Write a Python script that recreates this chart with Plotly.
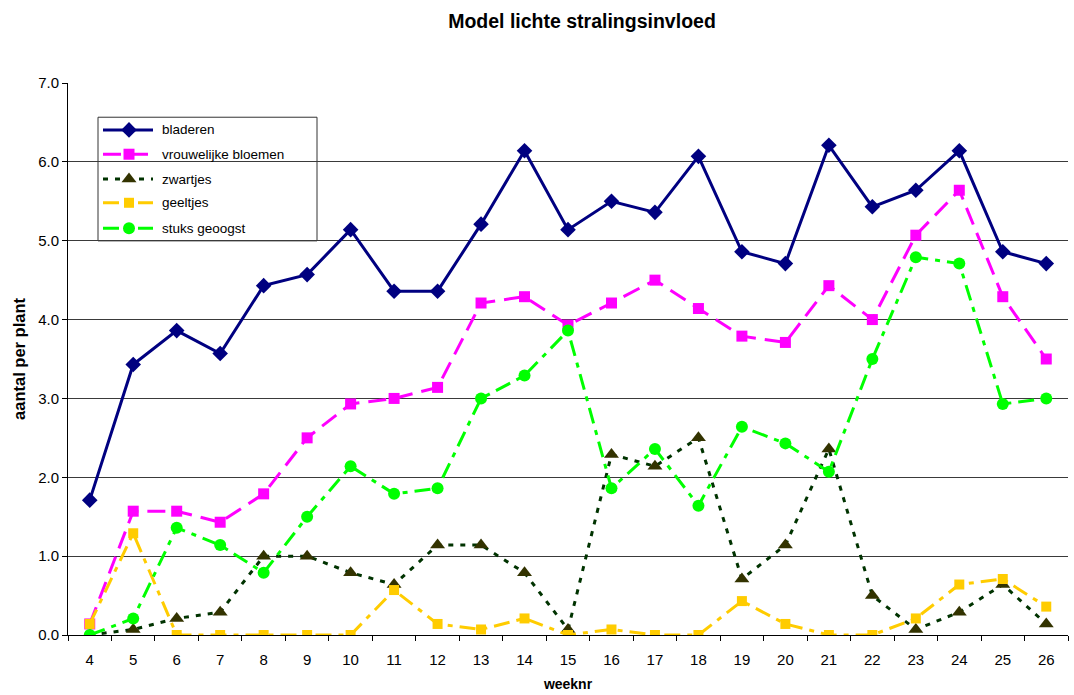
import plotly.graph_objects as go

weeks = [str(w) for w in range(4, 27)]

bladeren = [1.71, 3.43, 3.86, 3.57, 4.43, 4.57, 5.14, 4.36, 4.36, 5.21, 6.14, 5.14,
            5.50, 5.36, 6.07, 4.86, 4.71, 6.21, 5.43, 5.64, 6.14, 4.86, 4.71]
vrouwelijke_bloemen = [0.14, 1.57, 1.57, 1.43, 1.79, 2.50, 2.93, 3.00, 3.14, 4.21, 4.29, 3.93,
                       4.21, 4.50, 4.14, 3.79, 3.71, 4.43, 4.00, 5.07, 5.64, 4.29, 3.50]
zwartjes = [0.00, 0.07, 0.21, 0.29, 1.00, 1.00, 0.79, 0.64, 1.14, 1.14, 0.79, 0.07,
            2.29, 2.14, 2.50, 0.71, 1.14, 2.36, 0.50, 0.07, 0.29, 0.64, 0.14]
geeltjes = [0.14, 1.29, 0.00, 0.00, 0.00, 0.00, 0.00, 0.57, 0.14, 0.07, 0.21, 0.00,
            0.07, 0.00, 0.00, 0.43, 0.14, 0.00, 0.00, 0.21, 0.64, 0.71, 0.36]
stuks_geoogst = [0.00, 0.21, 1.36, 1.14, 0.79, 1.50, 2.14, 1.79, 1.86, 3.00, 3.29, 3.86,
                 1.86, 2.36, 1.64, 2.64, 2.43, 2.07, 3.50, 4.79, 4.71, 2.93, 3.00]

# name, values, line colour, dash, marker symbol, marker size, marker colour
series = [
    ("bladeren", bladeren, "#000080", "solid", "diamond", 12, "#000080"),
    ("vrouwelijke bloemen", vrouwelijke_bloemen, "#FF00FF", "18px,9px", "square", 11, "#FF00FF"),
    ("zwartjes", zwartjes, "#003300", "5px,7px", "triangle-up", 13, "#333300"),
    ("geeltjes", geeltjes, "#FFCC00", "16px,7px,5px,7px", "square", 10, "#FFCC00"),
    ("stuks geoogst", stuks_geoogst, "#00FF00", "16px,7px,5px,7px", "circle", 12, "#00FF00"),
]

font_family = "Arial, Liberation Sans, sans-serif"

fig = go.Figure()
for name, vals, lc, dash, sym, size, mc in series:
    fig.add_trace(go.Scatter(
        x=weeks, y=vals, name=name, mode="lines+markers", showlegend=False,
        line=dict(color=lc, width=3, dash=dash),
        marker=dict(symbol=sym, size=size, color=mc, line=dict(width=0)),
    ))

# Legend box drawn on an overlay axis spanning the plot area (0..1 in both directions)
leg_x0, leg_x1 = 0.030, 0.249
leg_y0, leg_y1 = 0.714, 0.938
sample_x0, sample_xm, sample_x1 = 0.035, 0.061, 0.085
text_x = 0.092
item_y = [0.915, 0.871, 0.826, 0.783, 0.737]

fig.add_shape(type="rect", xref="paper", yref="paper",
              x0=leg_x0, x1=leg_x1, y0=leg_y0, y1=leg_y1,
              fillcolor="white", line=dict(color="#333333", width=1), layer="between")

for (name, vals, lc, dash, sym, size, mc), yy in zip(series, item_y):
    fig.add_trace(go.Scatter(
        x=[sample_x0, sample_x1], y=[yy, yy],
        xaxis="x2", yaxis="y2", mode="lines", showlegend=False, hoverinfo="skip",
        line=dict(color=lc, width=3, dash=dash),
    ))
    fig.add_trace(go.Scatter(
        x=[sample_xm], y=[yy],
        xaxis="x2", yaxis="y2", mode="markers", showlegend=False, hoverinfo="skip",
        marker=dict(symbol=sym, size=size, color=mc, opacity=1, line=dict(width=0)),
    ))
    fig.add_annotation(x=text_x, y=yy, xref="paper", yref="paper", text=name,
                       showarrow=False, xanchor="left", yanchor="middle",
                       font=dict(size=13.5, color="black", family=font_family))

fig.update_layout(
    width=1074, height=695,
    margin=dict(l=68, r=6, t=83, b=60),
    paper_bgcolor="white", plot_bgcolor="white",
    font=dict(family=font_family, size=13, color="black"),
    title=dict(text="<b>Model lichte stralingsinvloed</b>", x=0.514, xref="paper",
               xanchor="center", y=0.970, yanchor="middle",
               font=dict(size=19.5, color="black")),
    showlegend=False,
    xaxis=dict(
        type="category", range=[-0.5, 22.5], tickson="boundaries", ticks="outside",
        ticklen=5, tickcolor="black", showline=True, linecolor="black", linewidth=1,
        showgrid=False, tickfont=dict(size=15), ticklabelstandoff=11,
        title=dict(text="<b>weeknr</b>", font=dict(size=14), standoff=12),
    ),
    yaxis=dict(
        range=[0, 7], dtick=1, tickformat=".1f", ticks="outside", ticklen=5,
        tickcolor="black", showline=True, linecolor="black", linewidth=1,
        showgrid=True, gridcolor="#3a3a3a", gridwidth=1, zeroline=False,
        tickfont=dict(size=15),
        title=dict(text="<b>aantal per plant</b>", font=dict(size=16.5), standoff=8),
    ),
    xaxis2=dict(overlaying="x", anchor="y2", range=[0, 1], visible=False, fixedrange=True),
    yaxis2=dict(overlaying="y", anchor="x2", range=[0, 1], visible=False, fixedrange=True),
)

fig.write_html("out.html")
